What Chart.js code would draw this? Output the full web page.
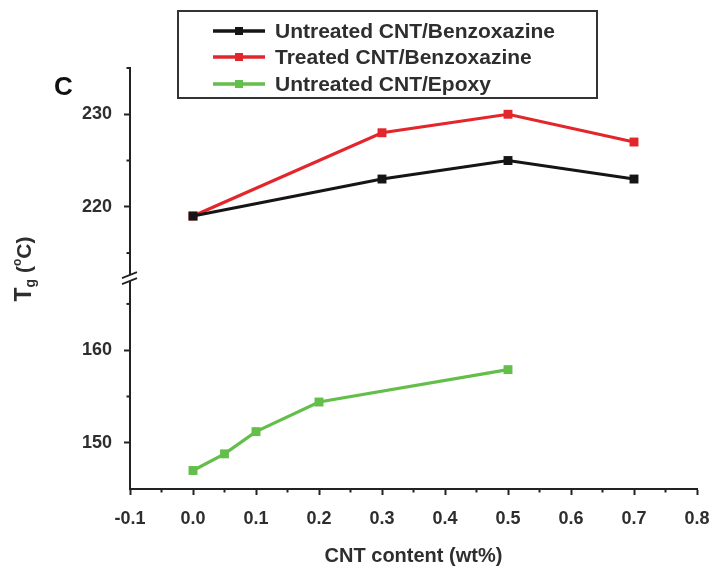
<!DOCTYPE html>
<html><head><meta charset="utf-8">
<script src="https://cdn.jsdelivr.net/npm/chart.js@4.4.1/dist/chart.umd.min.js"></script>
<style>html,body{margin:0;padding:0;background:#fff}#wrap{width:713px;height:569px;position:relative}</style>
</head><body><div id="wrap"><canvas id="c"></canvas></div>
<script>
// ---- data ----
const cntUntreatedBzx = [0, 0.3, 0.5, 0.7];
const tgUntreatedBzx  = [219, 223, 225, 223];
const cntTreatedBzx   = [0, 0.3, 0.5, 0.7];
const tgTreatedBzx    = [219, 228, 230, 227];
const cntEpoxy        = [0, 0.05, 0.1, 0.2, 0.5];
const tgEpoxy         = [147, 148.8, 151.2, 154.4, 157.9];
const seriesLabels    = ['Untreated CNT/Benzoxazine', 'Treated CNT/Benzoxazine', 'Untreated CNT/Epoxy'];
const seriesColors    = ['#151515', '#e2262b', '#63bf4a'];
const xMajorTicks     = [-0.1, 0.0, 0.1, 0.2, 0.3, 0.4, 0.5, 0.6, 0.7, 0.8];
const xMinorTicks     = [-0.05, 0.05, 0.15, 0.25, 0.35, 0.45, 0.55, 0.65, 0.75];
const yUpperMajor     = [220, 230];
const yUpperMinor     = [215, 225, 235];
const yLowerMajor     = [150, 160];
const yLowerMinor     = [155, 165];
const xTitle          = 'CNT content (wt%)';
const panelLetter     = 'C';

const FONT = "'Liberation Sans', Arial, sans-serif";
const TXT = '#2e2e2e';
const AX = '#222';

function pts(xs, ys){ return xs.map((x,i)=>({x:x, y:ys[i]})); }

const ds = [
  {label: seriesLabels[0], data: pts(cntUntreatedBzx, tgUntreatedBzx), yAxisID: 'yUpper'},
  {label: seriesLabels[1], data: pts(cntTreatedBzx, tgTreatedBzx), yAxisID: 'yUpper'},
  {label: seriesLabels[2], data: pts(cntEpoxy, tgEpoxy), yAxisID: 'yLower'}
].map((d,i)=>Object.assign(d, {
  borderColor: seriesColors[i], backgroundColor: seriesColors[i],
  borderWidth: 3.2, pointStyle: 'rect', pointRadius: 6.3, pointBorderWidth: 0,
  tension: 0, clip: false
}));

const axisCommon = {
  border: {color: AX, width: 2},
  grid: {drawOnChartArea: false, drawTicks: true, tickLength: 6, tickWidth: 2, tickColor: AX},
  ticks: {font: {family: FONT, size: 18, weight: 'bold'}, color: TXT}
};

const decorPlugin = {
  id: 'decor',
  afterDraw(chart){
    const ctx = chart.ctx;
    const xs = chart.scales.x, yu = chart.scales.yUpper, yl = chart.scales.yLower;
    const axX = chart.chartArea.left;
    ctx.save();
    // minor ticks
    ctx.strokeStyle = AX; ctx.lineWidth = 2;
    xMinorTicks.forEach(v=>{ const p = xs.getPixelForValue(v); ctx.beginPath(); ctx.moveTo(p, xs.top); ctx.lineTo(p, xs.top+3.5); ctx.stroke(); });
    yUpperMinor.forEach(v=>{ const p = yu.getPixelForValue(v); ctx.beginPath(); ctx.moveTo(axX, p); ctx.lineTo(axX-3.5, p); ctx.stroke(); });
    yLowerMinor.forEach(v=>{ const p = yl.getPixelForValue(v); ctx.beginPath(); ctx.moveTo(axX, p); ctx.lineTo(axX-3.5, p); ctx.stroke(); });
    // axis break
    const b = yu.bottom + 1;
    ctx.fillStyle = '#fff';
    ctx.beginPath(); ctx.moveTo(axX-8, b+1); ctx.lineTo(axX+7, b-5); ctx.lineTo(axX+7, b+1); ctx.lineTo(axX-8, b+7); ctx.closePath(); ctx.fill();
    ctx.strokeStyle = AX; ctx.lineWidth = 1.8;
    ctx.beginPath(); ctx.moveTo(axX-8, b+1); ctx.lineTo(axX+7, b-5); ctx.stroke();
    ctx.beginPath(); ctx.moveTo(axX-8, b+7); ctx.lineTo(axX+7, b+1); ctx.stroke();
    // legend box
    const L = 178, T = 11, R = 597, B = 98;
    ctx.fillStyle = '#fff'; ctx.fillRect(L, T, R-L, B-T);
    ctx.strokeStyle = '#333'; ctx.lineWidth = 2; ctx.strokeRect(L, T, R-L, B-T);
    const rows = [31, 57, 84];
    chart.data.datasets.forEach((d,i)=>{
      const y = rows[i];
      ctx.strokeStyle = d.borderColor; ctx.lineWidth = 3.5;
      ctx.beginPath(); ctx.moveTo(213, y); ctx.lineTo(265, y); ctx.stroke();
      ctx.fillStyle = d.borderColor; ctx.fillRect(235, y-4, 8, 8);
      ctx.fillStyle = TXT; ctx.font = `bold 21px ${FONT}`; ctx.textBaseline = 'middle'; ctx.textAlign = 'left';
      ctx.fillText(d.label, 275, y+1);
    });
    // panel letter
    ctx.fillStyle = '#111'; ctx.font = `bold 26px ${FONT}`; ctx.textBaseline = 'middle'; ctx.textAlign = 'left';
    ctx.fillText(panelLetter, 54, 88);
    // y title  T_g (°C)
    ctx.translate(25, 269); ctx.rotate(-Math.PI/2);
    ctx.fillStyle = TXT; ctx.textBaseline = 'middle'; ctx.textAlign = 'left';
    const parts = [
      {t:'T', f:`bold 23px ${FONT}`, dy:0},
      {t:'g', f:`bold 14px ${FONT}`, dy:6},
      {t:' (', f:`bold 21px ${FONT}`, dy:0},
      {t:'o', f:`bold 12px ${FONT}`, dy:-7},
      {t:'C)', f:`bold 21px ${FONT}`, dy:0}
    ];
    let w = 0; parts.forEach(p=>{ ctx.font = p.f; w += ctx.measureText(p.t).width; });
    let x = -w/2;
    parts.forEach(p=>{ ctx.font = p.f; ctx.fillText(p.t, x, p.dy); x += ctx.measureText(p.t).width; });
    ctx.restore();
  }
};

new Chart(document.getElementById('c'), {
  type: 'line',
  data: {datasets: ds},
  options: {
    responsive: true, maintainAspectRatio: false, animation: false,
    layout: {padding: {top: 68, right: 16, left: 0, bottom: 0}},
    plugins: {legend: {display: false}, tooltip: {enabled: false}},
    scales: {
      x: Object.assign({}, axisCommon, {
        type: 'linear', min: -0.1, max: 0.8,
        afterBuildTicks: s => { s.ticks = xMajorTicks.map(v=>({value: v})); },
        ticks: Object.assign({}, axisCommon.ticks, {padding: 13, callback: v => Number(v).toFixed(1)}),
        title: {display: true, text: xTitle, font: {family: FONT, size: 20, weight: 'bold'}, color: TXT, padding: {top: 0, bottom: 1}},
        afterFit: s => { s.height = 80; s.paddingLeft = 0; s.paddingRight = 0; }
      }),
      yLower: Object.assign({}, axisCommon, {
        type: 'linear', position: 'left', stack: 'tg', stackWeight: 23,
        min: 145, max: 168,
        afterBuildTicks: s => { s.ticks = yLowerMajor.map(v=>({value: v})); },
        ticks: Object.assign({}, axisCommon.ticks, {padding: 12}),
        afterFit: s => { s.width = 130; s.paddingTop = 0; s.paddingBottom = 0; }
      }),
      yUpper: Object.assign({}, axisCommon, {
        type: 'linear', position: 'left', stack: 'tg', stackWeight: 22.5,
        min: 212.5, max: 235,
        afterBuildTicks: s => { s.ticks = yUpperMajor.map(v=>({value: v})); },
        ticks: Object.assign({}, axisCommon.ticks, {padding: 12}),
        afterFit: s => { s.width = 130; s.paddingTop = 0; s.paddingBottom = 0; }
      })
    }
  },
  plugins: [decorPlugin]
});
</script>
</body></html>
